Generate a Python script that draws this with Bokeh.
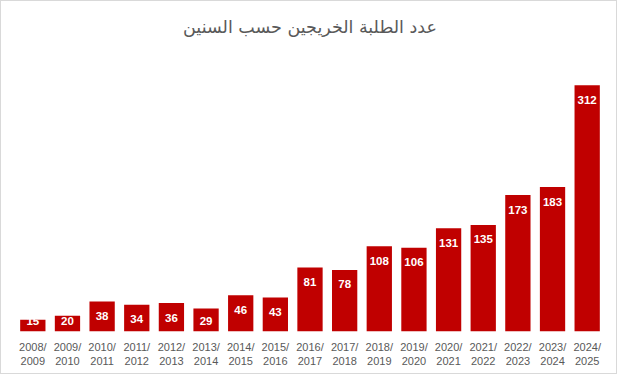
import numpy as np
from bokeh.plotting import figure
from bokeh.models import ColumnDataSource, FactorRange, Range1d, Label
from bokeh.core.properties import value
from bokeh.embed import file_html
from bokeh.resources import INLINE

title_text = "عدد الطلبة الخريجين حسب السنين"
years = ["2008/\n2009", "2009/\n2010", "2010/\n2011", "2011/\n2012", "2012/\n2013",
         "2013/\n2014", "2014/\n2015", "2015/\n2016", "2016/\n2017", "2017/\n2018",
         "2018/\n2019", "2019/\n2020", "2020/\n2021", "2021/\n2022", "2022/\n2023",
         "2023/\n2024", "2024/\n2025"]
graduates = [15, 20, 38, 34, 36, 29, 46, 43, 81, 78, 108, 106, 131, 135, 173, 183, 312]

W, H = 617, 374
border_top, border_bottom = 0, 44
frame_h = H - border_top - border_bottom
ppu = 0.789
y_end = frame_h / ppu

vals = np.array(graduates, dtype=float)
label_y = np.maximum(vals - 14.5 / ppu, 11 / ppu)

src = ColumnDataSource(dict(x=years, top=vals, ly=label_y,
                            txt=[str(v) for v in graduates]))

p = figure(x_range=FactorRange(factors=years, range_padding=0),
           y_range=Range1d(0, y_end), width=W, height=H,
           output_backend="svg", toolbar_location=None,
           min_border=0)
p.min_border_left = 14
p.min_border_right = 14
p.min_border_top = border_top
p.min_border_bottom = border_bottom

title = Label(x=len(years) / 2, y=(frame_h - 25) / ppu,
              text=title_text, text_align="center", text_baseline="middle",
              text_font="DejaVu Sans", text_font_size="17.5px",
              text_color="#595959")
p.add_layout(title)

p.vbar(x="x", top="top", width=0.73, source=src, color="#C00000", line_color=None)
p.text(x="x", y="ly", text="txt", source=src, text_color="white",
       text_font=value("Liberation Sans"), text_font_style="bold",
       text_font_size="11.5px", text_align="center", text_baseline="middle")

p.yaxis.visible = False
p.xgrid.visible = False
p.ygrid.visible = False
p.outline_line_color = None
p.xaxis.axis_line_color = None
p.xaxis.major_tick_line_color = None
p.xaxis.minor_tick_line_color = None
p.xaxis.major_label_text_color = "#595959"
p.xaxis.major_label_text_font = "Liberation Sans"
p.xaxis.major_label_text_font_size = "11px"
p.xaxis.major_label_standoff = 3
p.styles = {"border": "1px solid #d9d9d9", "box-sizing": "border-box"}

open("out.html", "w").write(file_html(p, INLINE))
